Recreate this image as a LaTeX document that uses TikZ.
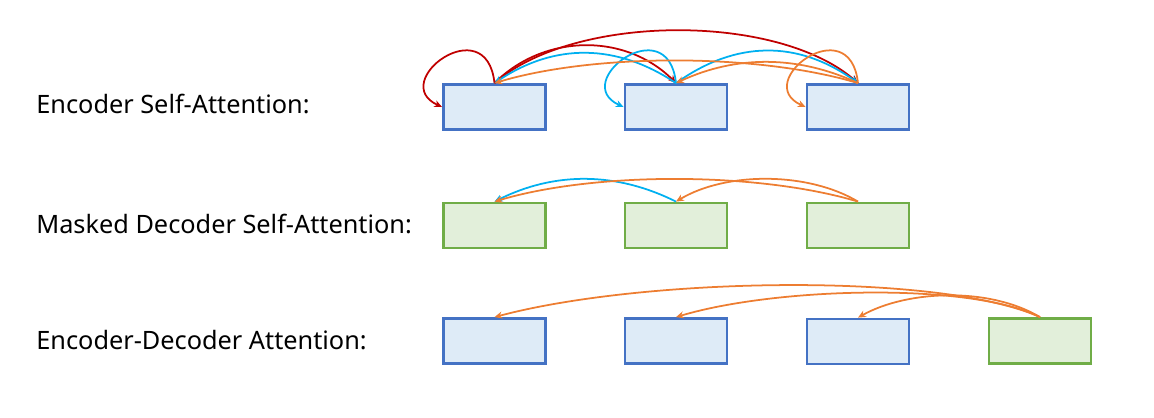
\documentclass[tikz,border=0pt]{standalone}
\usepackage{fontspec}
\setmainfont{Noto Sans}
\usetikzlibrary{arrows.meta}

\definecolor{encfill}{HTML}{DEEBF7}
\definecolor{encline}{HTML}{4472C4}
\definecolor{decfill}{HTML}{E2EFDA}
\definecolor{decline}{HTML}{70AD47}
\definecolor{attred}{HTML}{C00000}
\definecolor{attblue}{HTML}{00B0F0}
\definecolor{attorange}{HTML}{ED7D31}

\tikzset{
    enc/.style={draw=encline,fill=encfill,line width=1.6pt,rectangle,minimum width=2.04cm,minimum height=0.9cm},
    dec/.style={draw=decline,fill=decfill,line width=1.6pt,rectangle,minimum width=2.04cm,minimum height=0.9cm},
    att/.style={line width=1pt,-{Stealth[length=4.5pt,width=4pt]}},
    lbl/.style={anchor=base west,inner sep=0pt,font=\fontsize{14.4}{16}\selectfont}
}

\begin{document}
\begin{tikzpicture}[x=0.02cm,y=-0.02cm]
    \useasboundingbox (0,0) rectangle (1154,417);

    \node [lbl](la)at(36,113){Encoder Self-Attention:};
    \node [lbl](lb)at(36,233){Masked Decoder Self-Attention:};
    \node [lbl](lc)at(36,349){Encoder-Decoder Attention:};

    \node [enc](e1)at(494.5,107){};
    \node [enc](e2)at(676,107){};
    \node [enc](e3)at(858,107){};

    \node [dec](d1)at(494.5,225.5){};
    \node [dec](d2)at(676,225.5){};
    \node [dec](d3)at(858,225.5){};

    \node [enc](c1)at(494.5,341){};
    \node [enc](c2)at(676,341){};
    \node [enc](c3)at(858,341.5){};
    \node [dec](c4)at(1040,341){};

    % encoder self-attention
    \draw [att,attred](e1.north) .. controls +(-8,-75) and +(-55,-25) .. (e1.west);
    \draw [att,attred](e1.north) .. controls +(50,-50) and +(-50,-50) .. (e2.north);
    \draw [att,attred](e1.north) .. controls +(80,-70) and +(-80,-70) .. (e3.north);
    \draw [att,attblue](e2.north) .. controls +(-60,-40) and +(60,-40) .. (e1.north);
    \draw [att,attblue](e2.north) .. controls +(-8,-75) and +(-55,-25) .. (e2.west);
    \draw [att,attblue](e2.north) .. controls +(60,-43) and +(-60,-43) .. (e3.north);
    \draw [att,attorange](e3.north) .. controls +(-100,-30) and +(100,-30) .. (e1.north);
    \draw [att,attorange](e3.north) .. controls +(-60,-28) and +(60,-28) .. (e2.north);
    \draw [att,attorange](e3.north) .. controls +(-8,-75) and +(-55,-25) .. (e3.west);

    % masked decoder self-attention
    \draw [att,attblue](d2.north) .. controls +(-60,-30) and +(60,-30) .. (d1.north);
    \draw [att,attorange](d3.north) .. controls +(-100,-30) and +(100,-30) .. (d1.north);
    \draw [att,attorange](d3.north) .. controls +(-50,-30) and +(50,-30) .. (d2.north);

    % encoder-decoder attention
    \draw [att,attorange](c4.north) .. controls +(-100,-45) and +(150,-40) .. (c1.north);
    \draw [att,attorange](c4.north) .. controls +(-70,-35) and +(100,-30) .. (c2.north);
    \draw [att,attorange](c4.north) .. controls +(-50,-30) and +(50,-28) .. (c3.north);
\end{tikzpicture}
\end{document}
